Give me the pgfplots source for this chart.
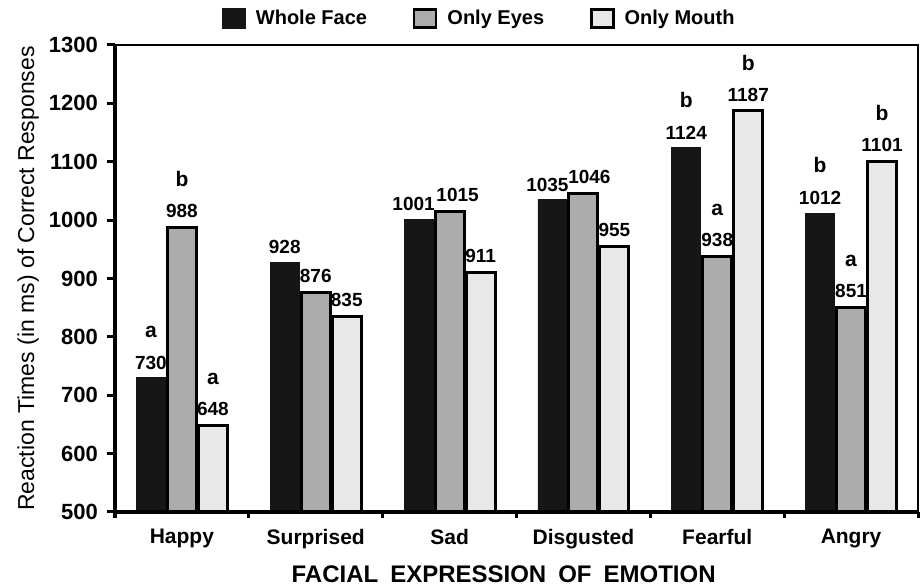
\documentclass[border=0pt]{standalone}
\usepackage{fontspec}
\setmainfont{Liberation Sans}
\usepackage{pgfplots}
\usepackage{pgfplotstable}
\pgfplotsset{compat=1.18}
\definecolor{barblack}{RGB}{22,22,22}
\definecolor{bargray}{RGB}{172,172,172}
\definecolor{barlight}{RGB}{232,232,232}
\pgfplotstableread{
x y dx
0 730 0
1 928 0
2 1001 -2.5
3 1035 -2.5
4 1124 0
5 1012 0
}\wholeface
\pgfplotstableread{
x y dx
0 988 0
1 876 0
2 1015 4
3 1046 3
4 938 0
5 851 0
}\onlyeyes
\pgfplotstableread{
x y
0 648
1 835
2 911
3 955
4 1187
5 1101
}\onlymouth
\pgfplotstableread{
x y l
0 730 a
4 1124 b
5 1012 b
}\letwf
\pgfplotstableread{
x y l
0 988 b
4 938 a
5 851 a
}\leteyes
\pgfplotstableread{
x y l
0 648 a
4 1187 b
5 1101 b
}\letmouth
\begin{document}
\begin{tikzpicture}
\path[use as bounding box] (-57.5pt,-37.5pt) rectangle (402.5pt,256pt);
\begin{axis}[
  at={(0,0)}, anchor=south west,
  scale only axis, width=401.5pt, height=233.5pt,
  xmin=-0.5, xmax=5.5, ymin=500, ymax=1300,
  ytick={500,600,...,1300},
  xtick={0,1,2,3,4,5},
  xticklabels={Happy,Surprised,Sad,Disgusted,Fearful,Angry},
  minor xtick={-0.5,0.5,1.5,2.5,3.5,4.5,5.5},
  x tick style={draw=none},
  minor x tick style={draw=black, line width=1.5pt},
  y tick style={line width=1.5pt, black},
  tick align=outside,
  major tick length=4pt, minor tick length=3pt,
  ytick pos=left, xtick pos=bottom,
  axis line style={line width=1.3pt},
  /pgf/number format/assume math mode=true,
  /pgf/number format/1000 sep={},
  yticklabel style={font=\bfseries\fontsize{11}{13}\selectfont, xshift=-1pt},
  xticklabel style={font=\bfseries\fontsize{10.5}{12}\selectfont, yshift=-1pt},
  ylabel={Reaction Times (in ms) of Correct Responses},
  ylabel style={font=\fontsize{11.5}{13}\selectfont, at={(axis description cs:-0.108,0.5)}, anchor=center},
  xlabel={FACIAL\hspace{6pt}EXPRESSION\hspace{6pt}OF\hspace{6pt}EMOTION},
  xlabel style={font=\bfseries\fontsize{12}{14}\selectfont, at={(axis description cs:0.484,-0.1328)}, anchor=center},
  ybar, bar width=14.5pt,
  clip=false,
  legend columns=3,
  legend style={draw=none, fill=none, at={(0.4546,1.0567)}, anchor=center,
    font=\bfseries\fontsize{10}{12}\selectfont,
    /tikz/every odd column/.append style={column sep=3pt},
    /tikz/every even column/.append style={column sep=21pt}},
  legend image code/.code={\draw[#1, line width=1.2pt] (0pt,-4.5pt) rectangle (11pt,4.5pt);},
  nodes near coords style={font=\bfseries\fontsize{9.5}{11}\selectfont, anchor=south, inner sep=2pt, yshift=2pt, black},
]
\addplot[fill=barblack, draw=barblack, bar shift=-15.5pt,
  visualization depends on={\thisrow{dx} \as \dx},
  nodes near coords, every node near coord/.append style={xshift=\dx pt}] table[x=x,y=y] {\wholeface};
\addlegendentry{Whole Face}
\addplot[fill=bargray, draw=black, line width=1.5pt, bar shift=0pt,
  visualization depends on={\thisrow{dx} \as \dx},
  nodes near coords, every node near coord/.append style={xshift=\dx pt}] table[x=x,y=y] {\onlyeyes};
\addlegendentry{Only Eyes}
\addplot[fill=barlight, draw=black, line width=1.5pt, bar shift=15.5pt, nodes near coords] table[x=x,y=y] {\onlymouth};
\addlegendentry{Only Mouth}
\addplot[draw=none, fill=none, bar shift=-15.5pt, point meta=explicit symbolic,
  nodes near coords, nodes near coords style={yshift=16pt, font=\bfseries\fontsize{10.5}{12}\selectfont}]
  table[x=x,y=y,meta=l] {\letwf};
\addplot[draw=none, fill=none, bar shift=0pt, point meta=explicit symbolic,
  nodes near coords, nodes near coords style={yshift=16pt, font=\bfseries\fontsize{10.5}{12}\selectfont}]
  table[x=x,y=y,meta=l] {\leteyes};
\addplot[draw=none, fill=none, bar shift=15.5pt, point meta=explicit symbolic,
  nodes near coords, nodes near coords style={yshift=16pt, font=\bfseries\fontsize{10.5}{12}\selectfont}]
  table[x=x,y=y,meta=l] {\letmouth};
\draw[line width=2pt] (rel axis cs:0,1) -- (rel axis cs:0,0) -- (rel axis cs:1,0);
\end{axis}
\end{tikzpicture}
\end{document}
